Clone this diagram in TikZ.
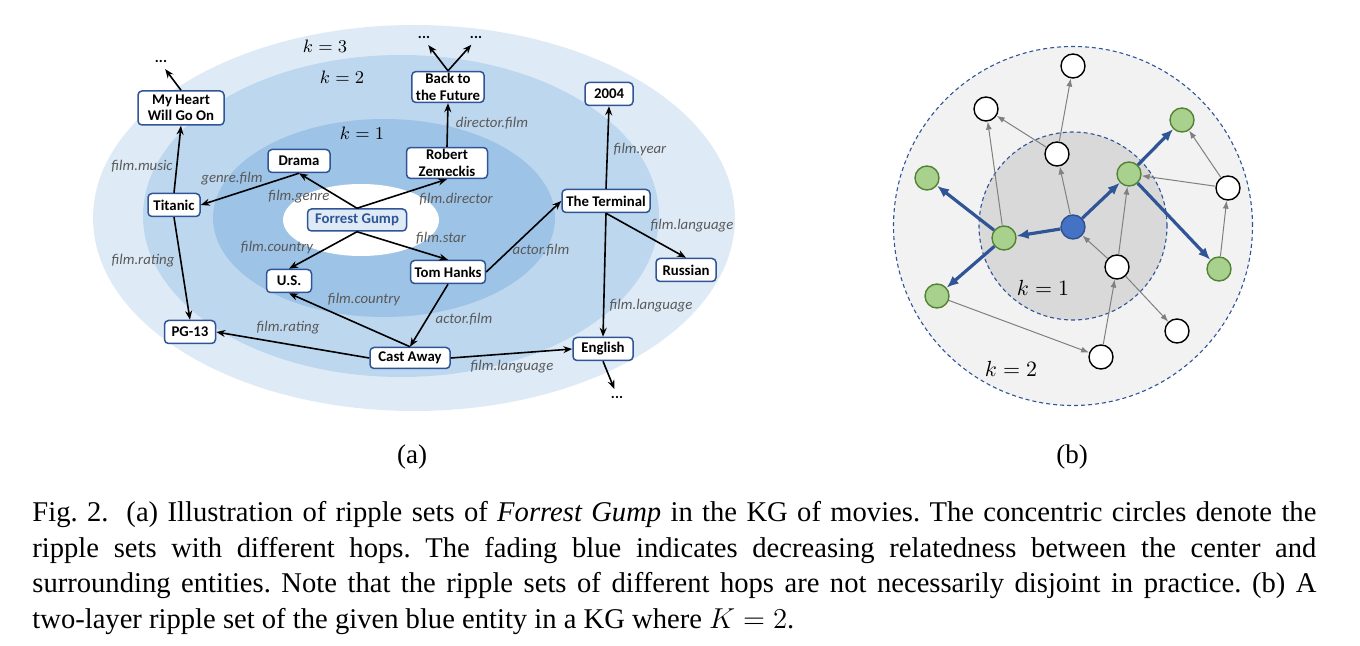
\documentclass[tikz,border=0pt]{standalone}
\usepackage{fontspec}
\setmainfont{Liberation Serif}
\setsansfont{Carlito}
\usetikzlibrary{positioning, arrows.meta, calc}
\definecolor{cRingThree}{HTML}{DEEBF7}
\definecolor{cRingTwo}{HTML}{BDD7EE}
\definecolor{cRingOne}{HTML}{9DC3E6}
\definecolor{cBorder}{HTML}{2F5597}
\definecolor{cLabel}{HTML}{595959}
\definecolor{cHopOut}{HTML}{F2F2F2}
\definecolor{cHopIn}{HTML}{D9D9D9}
\definecolor{cGreen}{HTML}{A9D18E}
\definecolor{cGreenDark}{HTML}{548235}
\definecolor{cSeed}{HTML}{4472C4}
\definecolor{cSeedDark}{HTML}{2F528F}
\definecolor{cEdgeGray}{HTML}{808080}
\tikzset{
  entity/.style={
    draw=cBorder, fill=white, line width=0.75pt, rounded corners=2pt,
    minimum height=11.5pt, inner xsep=2pt, inner ysep=1pt, align=center,
    font=\fontsize{7.4}{8.2}\selectfont\sffamily\bfseries
  },
  relation/.style={
    font=\fontsize{7.4}{8}\selectfont\sffamily\itshape, text=cLabel,
    inner sep=0pt
  },
  kgarrow/.style={
    -{Stealth[length=4.5pt, width=3.5pt]}, line width=0.8pt
  },
  more/.style={
    font=\fontsize{7.5}{7.5}\selectfont\sffamily\bfseries, inner sep=0pt
  },
  hoplabel/.style={
    font=\fontsize{#1}{#1}\selectfont, inner sep=0pt
  },
  ball/.style={
    circle, minimum size=12pt, inner sep=0pt, line width=0.7pt,
    draw=black, fill=white
  },
  greenball/.style={ball, draw=cGreenDark, fill=cGreen},
  seedball/.style={ball, draw=cSeedDark, fill=cSeed},
  thinarrow/.style={
    -{Latex[length=4pt, width=3pt]}, line width=0.5pt, color=cEdgeGray
  },
  thickarrow/.style={
    -{Latex[length=6pt, width=5pt]}, line width=1.6pt, color=cBorder
  },
  hopring/.style={
    draw=cBorder, line width=0.55pt, dash pattern=on 2pt off 1.5pt
  },
}

\begin{document}
\frenchspacing
\begin{tikzpicture}[x=0.5pt, y=-0.5pt]
\useasboundingbox (0,0) rectangle (1360,646);

% ---- (a) ripple rings ----
\fill[cRingThree] (414,218) ellipse [x radius=160.5pt, y radius=96.5pt];
\fill[cRingTwo] (401,216) ellipse [x radius=129pt, y radius=80.5pt];
\fill[cRingOne] (384,218) ellipse [x radius=85.5pt, y radius=49.5pt];
\fill[white] (361,220) ellipse [x radius=39pt, y radius=18pt];

\node[hoplabel=9] (kthree) at (325,46) {$k=3$};
\node[hoplabel=9] (ktwo) at (342,77) {$k=2$};
\node[hoplabel=9] (kone) at (362,133) {$k=1$};

% ---- (a) entities ----
\node[entity, fill=cRingThree, text=cBorder, minimum width=49.5pt,
      minimum height=11pt] (fg) at (357,220) {Forrest Gump};
\node[entity, minimum width=31pt] (drama) at (299,161) {Drama};
\node[entity, minimum width=40.5pt, minimum height=15pt]
  (zemeckis) at (447,163) {Robert\\Zemeckis};
\node[entity, minimum width=35.5pt, minimum height=15pt]
  (bttf) at (448,87) {Back to\\the Future};
\node[entity, minimum width=43pt, minimum height=17pt]
  (heart) at (181,108) {My Heart\\Will Go On};
\node[entity, minimum width=26pt] (titanic) at (174,205) {Titanic};
\node[entity, minimum width=24pt] (yr2004) at (609,94) {2004};
\node[entity, minimum width=44pt] (terminal) at (606,201) {The Terminal};
\node[entity, minimum width=22.5pt] (us) at (289,281) {U.S.};
\node[entity, minimum width=36.5pt] (hanks) at (448,272) {Tom Hanks};
\node[entity, minimum width=30pt] (russian) at (686,270) {Russian};
\node[entity, minimum width=25.5pt] (pgrating) at (190,332) {PG-13};
\node[entity, minimum width=40pt, minimum height=10.5pt]
  (castaway) at (410,358) {Cast Away};
\node[entity, minimum width=30pt] (english) at (603,349) {English};

% dots
\node[more] (moreheart) at (161,62) {...};
\node[more] (morebttfa) at (424,38) {...};
\node[more] (morebttfb) at (476,38) {...};
\node[more] (moreenglish) at (617,397) {...};

% ---- (a) relations ----
\draw[kgarrow] (fg.north) -- (drama.south);
\draw[kgarrow] (fg.north) -- (zemeckis.south);
\draw[kgarrow] (drama.south) -- (titanic.east);
\draw[kgarrow] (titanic.north) -- (heart.south);
\draw[kgarrow, shorten >=3.5pt] (heart.north) -- (moreheart.south);
\draw[kgarrow] (titanic.south) -- (pgrating.north);
\draw[kgarrow] (zemeckis.north) -- (bttf.south);
\draw[kgarrow, shorten >=3.5pt] (bttf.north) -- (morebttfa.south);
\draw[kgarrow, shorten >=3.5pt] (bttf.north) -- (morebttfb.south);
\draw[kgarrow] (fg.south) -- (us.north);
\draw[kgarrow] (fg.south) -- (hanks.north);
\draw[kgarrow] (hanks.east) -- (terminal.west);
\draw[kgarrow] (hanks.south) -- (castaway.north);
\draw[kgarrow] (castaway.north) -- (us.south);
\draw[kgarrow] (castaway.west) -- (pgrating.east);
\draw[kgarrow] (castaway.east) -- (english.west);
\draw[kgarrow, shorten >=3.5pt] (english.south) -- (moreenglish.north);
\draw[kgarrow] (terminal.north) -- (yr2004.south);
\draw[kgarrow] (terminal.south) -- (russian.north);
\draw[kgarrow] (terminal.south) -- (english.north);

% relation labels
\node[relation] (lgenre) at (299,197) {film.genre};
\node[relation] (lgenrefilm) at (232,179) {genre.film};
\node[relation] (lmusic) at (142,166) {film.music};
\node[relation] (ldirector) at (456,199) {film.director};
\node[relation] (ldirfilm) at (492,123) {director.film};
\node[relation] (lyear) at (640,150) {film.year};
\node[relation] (llangru) at (692,226) {film.language};
\node[relation] (lstar) at (441,238) {film.star};
\node[relation] (lactora) at (541,250) {actor.film};
\node[relation] (lactorb) at (464,319) {actor.film};
\node[relation] (llangen) at (651,306) {film.language};
\node[relation] (llangca) at (512,367) {film.language};
\node[relation] (lcountrya) at (277,248) {film.country};
\node[relation] (lcountryb) at (364,300) {film.country};
\node[relation] (lratinga) at (143,261) {film.rating};
\node[relation] (lratingb) at (288,328) {film.rating};

% ---- (b) two-layer ripple set ----
\filldraw[hopring, fill=cHopOut] (1073,226) circle [radius=89.75pt];
\filldraw[hopring, fill=cHopIn] (1073,226) circle [radius=47pt];
\node[hoplabel=10.5] (hopone) at (1043,288) {$k=1$};
\node[hoplabel=10.5] (hoptwo) at (1011,369) {$k=2$};

\node[seedball] (seed) at (1073,227) {};
\node[greenball] (ga) at (1004,238) {};
\node[greenball] (gb) at (1129,174) {};
\node[ball] (wa) at (1057,154) {};
\node[ball] (wb) at (1117,267) {};
\node[greenball] (oa) at (927,178) {};
\node[greenball] (ob) at (937,296) {};
\node[greenball] (oc) at (1182,120) {};
\node[greenball] (od) at (1219,269) {};
\node[ball] (wtop) at (1073,66) {};
\node[ball] (wul) at (986,109) {};
\node[ball] (wr) at (1228,188) {};
\node[ball] (wlr) at (1177,331) {};
\node[ball] (wbot) at (1101,357) {};

\draw[thinarrow] (seed) -- (wa);
\draw[thinarrow] (wa) -- (wtop);
\draw[thinarrow] (wa) -- (wul);
\draw[thinarrow] (ga) -- (wul);
\draw[thinarrow] (wb) -- (seed);
\draw[thinarrow] (wb) -- (gb);
\draw[thinarrow] (wb) -- (wlr);
\draw[thinarrow] (wbot) -- (wb);
\draw[thinarrow] (ob) -- (wbot);
\draw[thinarrow] (wr) -- (gb);
\draw[thinarrow] (wr) -- (oc);
\draw[thinarrow] (od) -- (wr);

\draw[thickarrow] (seed) -- (ga);
\draw[thickarrow] (seed) -- (gb);
\draw[thickarrow] (ga) -- (oa);
\draw[thickarrow] (ga) -- (ob);
\draw[thickarrow] (gb) -- (oc);
\draw[thickarrow] (gb) -- (od);

% ---- captions ----
\node[font=\fontsize{13.5}{16}\selectfont] (suba) at (412,457) {(a)};
\node[font=\fontsize{13.5}{16}\selectfont] (subb) at (1072,457) {(b)};
\node[anchor=north west, text width=642pt, align=justify, inner sep=0pt,
      font=\fontsize{14.3}{17.75}\selectfont] (caption) at (32,501)
  {Fig.~2.\hspace{9pt}(a) Illustration of ripple sets of \textit{Forrest Gump}
   in the KG of movies. The concentric circles denote the\linebreak
   ripple sets with different hops. The fading blue indicates decreasing
   relatedness between the center and\linebreak
   surrounding entities. Note that the ripple sets of different hops are not
   necessarily disjoint in practice. (b) A\linebreak
   two-layer ripple set of the given blue entity in a KG where $K=2$.};

\end{tikzpicture}
\end{document}
